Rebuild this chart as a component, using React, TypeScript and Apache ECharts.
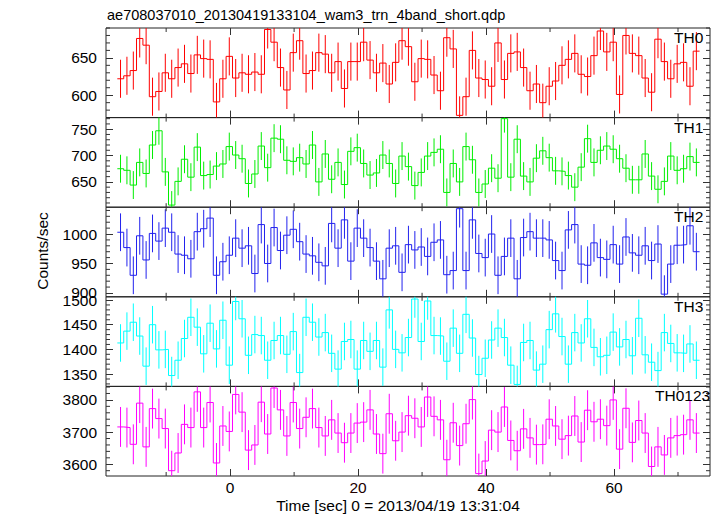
import React, { useEffect, useRef } from "react";
import * as echarts from "echarts";

// ---------- data ----------
const BIN_START = -17.63; // left edge of first 1-s bin (sec)
const BIN_WIDTH = 1;

const th0 = [622, 626, 633, 676, 667, 598, 605, 630, 622, 637, 642, 629, 654, 649, 648, 591, 622, 652, 623, 630, 628, 631, 628, 688, 671, 637, 607, 657, 673, 629, 633, 657, 655, 630, 645, 609, 645, 645, 671, 647, 630, 643, 615, 644, 673, 665, 618, 649, 648, 627, 606, 677, 662, 573, 598, 660, 623, 621, 612, 670, 621, 656, 658, 637, 606, 615, 590, 612, 619, 640, 648, 656, 628, 625, 653, 686, 658, 671, 601, 680, 656, 653, 623, 604, 675, 645, 622, 642, 644, 612, 659];
const th1 = [675, 672, 644, 687, 666, 720, 747, 669, 606, 651, 693, 659, 716, 662, 664, 680, 684, 717, 701, 694, 647, 665, 718, 677, 733, 731, 691, 689, 696, 684, 720, 650, 703, 655, 687, 645, 708, 715, 685, 663, 667, 701, 685, 647, 699, 679, 643, 668, 699, 706, 712, 630, 685, 650, 717, 692, 630, 646, 676, 657, 770, 659, 731, 661, 650, 695, 709, 696, 671, 670, 662, 640, 678, 732, 687, 710, 718, 712, 694, 676, 654, 654, 703, 661, 636, 651, 699, 672, 675, 698, 687];
const th2 = [1003, 977, 930, 997, 956, 1001, 988, 1010, 1003, 966, 964, 958, 1004, 1009, 1027, 930, 953, 964, 993, 976, 980, 933, 1016, 950, 1011, 972, 998, 1008, 987, 966, 963, 952, 946, 1018, 976, 1024, 954, 1010, 993, 977, 954, 924, 976, 980, 935, 982, 973, 978, 962, 986, 990, 931, 938, 1043, 938, 1024, 967, 960, 1000, 930, 962, 993, 924, 994, 1004, 993, 993, 990, 955, 938, 1007, 1016, 949, 947, 985, 960, 957, 982, 949, 995, 968, 964, 980, 955, 983, 898, 949, 981, 982, 1014, 970];
const th3 = [1413, 1437, 1455, 1427, 1366, 1450, 1399, 1400, 1347, 1378, 1422, 1465, 1445, 1391, 1453, 1401, 1459, 1368, 1497, 1462, 1388, 1430, 1428, 1378, 1418, 1428, 1390, 1436, 1353, 1465, 1455, 1425, 1434, 1392, 1360, 1416, 1420, 1360, 1418, 1396, 1418, 1364, 1480, 1400, 1393, 1424, 1502, 1416, 1498, 1428, 1427, 1376, 1443, 1392, 1471, 1423, 1349, 1382, 1419, 1443, 1424, 1368, 1329, 1414, 1418, 1358, 1370, 1440, 1472, 1426, 1370, 1434, 1413, 1462, 1404, 1385, 1388, 1435, 1405, 1420, 1387, 1463, 1389, 1374, 1357, 1434, 1412, 1393, 1392, 1411, 1378];
const th0123 = [3716, 3714, 3662, 3790, 3654, 3773, 3742, 3711, 3580, 3635, 3724, 3714, 3825, 3714, 3792, 3604, 3719, 3702, 3817, 3762, 3644, 3660, 3793, 3694, 3837, 3769, 3688, 3792, 3711, 3746, 3773, 3714, 3688, 3738, 3697, 3667, 3697, 3728, 3731, 3769, 3694, 3633, 3757, 3673, 3700, 3751, 3743, 3716, 3809, 3749, 3738, 3614, 3729, 3658, 3726, 3801, 3571, 3610, 3706, 3700, 3778, 3674, 3642, 3710, 3682, 3661, 3662, 3740, 3719, 3678, 3689, 3750, 3669, 3768, 3732, 3740, 3720, 3800, 3647, 3774, 3668, 3736, 3697, 3593, 3654, 3629, 3682, 3689, 3692, 3738, 3697];

// typical 1-sigma error per panel (counts/sec)
const th0Err = 25.5;
const th1Err = 26.5;
const th2Err = 32;
const th3Err = 38;
const th0123Err = 62;

// axis ranges and ticks
const xRange = [-19.4, 75];
const xMajorTicks = [0, 20, 40, 60];
const xMinorTicks = [-10, 10, 30, 50, 70];

const th0Range = [570, 690];
const th0Major = [600, 650];
const th0Minor = [580, 590, 610, 620, 630, 640, 660, 670, 680, 690];

const th1Range = [602, 772];
const th1Major = [650, 700, 750];
const th1Minor = [610, 620, 630, 640, 660, 670, 680, 690, 710, 720, 730, 740, 760, 770];

const th2Range = [893.5, 1045.5];
const th2Major = [900, 950, 1000];
const th2Minor = [910, 920, 930, 940, 960, 970, 980, 990, 1010, 1020, 1030, 1040];

const th3Range = [1325, 1506.5];
const th3Major = [1350, 1400, 1450, 1500];
const th3Minor = [1330, 1340, 1360, 1370, 1380, 1390, 1410, 1420, 1430, 1440, 1460, 1470, 1480, 1490];

const th0123Range = [3563.5, 3842];
const th0123Major = [3600, 3700, 3800];
const th0123Minor = [3580, 3620, 3640, 3660, 3680, 3720, 3740, 3760, 3780, 3820, 3840];

const panelNames = ["TH0", "TH1", "TH2", "TH3", "TH0123"];
const panelColors = ["#ff0000", "#00ee00", "#2222ee", "#00ffff", "#ff00ff"];

const TITLE = "ae708037010_20130419133104_wam3_trn_4band_short.qdp";
const X_LABEL = "Time [sec] 0 = 2013/04/19 13:31:04";
const Y_LABEL = "Counts/sec";

// ---------- layout ----------
const GRID_LEFT = 106;
const GRID_WIDTH = 604;
const GRID_TOP = 28;
const PANEL_H = 89.6;
const FONT = "'Liberation Sans', Arial, Helvetica, sans-serif";
const FRAME = "#222";
const TICK = "#333";
const MAJOR_LEN = 7;
const MINOR_LEN = 4;

const panels = [
  { values: th0, err: th0Err, range: th0Range, major: th0Major, minor: th0Minor, labelX: 674 },
  { values: th1, err: th1Err, range: th1Range, major: th1Major, minor: th1Minor, labelX: 674 },
  { values: th2, err: th2Err, range: th2Range, major: th2Major, minor: th2Minor, labelX: 674 },
  { values: th3, err: th3Err, range: th3Range, major: th3Major, minor: th3Minor, labelX: 674 },
  { values: th0123, err: th0123Err, range: th0123Range, major: th0123Major, minor: th0123Minor, labelX: 655 },
];

export default function App() {
  const ref = useRef<HTMLDivElement>(null);

  useEffect(() => {
    if (!ref.current) return;
    const chart = echarts.init(ref.current, null, { renderer: "svg" });

    const grid: any[] = [];
    const xAxis: any[] = [];
    const yAxis: any[] = [];
    const series: any[] = [];
    const graphic: any[] = [];

    panels.forEach((p, i) => {
      const color = panelColors[i];
      const top = GRID_TOP + i * PANEL_H;
      grid.push({
        left: GRID_LEFT,
        width: GRID_WIDTH,
        top,
        height: PANEL_H,
        show: true,
        borderColor: FRAME,
        borderWidth: 1,
        backgroundColor: "transparent",
        containLabel: false,
      });
      const tickStyle = { color: TICK, width: 1 };
      ["bottom", "top"].forEach((pos) => {
        xAxis.push({
          gridIndex: i,
          type: "value",
          position: pos,
          min: xRange[0],
          max: xRange[1],
          axisLine: { show: false, onZero: false },
          splitLine: { show: false },
          axisTick: { show: true, inside: true, length: MAJOR_LEN, customValues: xMajorTicks, lineStyle: tickStyle },
          axisLabel: { show: false },
        });
      });
      ["left", "right"].forEach((pos) => {
        yAxis.push({
          gridIndex: i,
          type: "value",
          position: pos,
          min: p.range[0],
          max: p.range[1],
          axisLine: { show: false, onZero: false },
          splitLine: { show: false },
          axisTick: { show: true, inside: true, length: MAJOR_LEN, customValues: p.major, lineStyle: tickStyle },
          axisLabel: {
            show: pos === "left",
            customValues: p.major,
            interval: 0,
            hideOverlap: false,
            margin: 9,
            fontSize: 15.5,
            fontFamily: FONT,
            color: "#000",
            formatter: (v: number) => String(v),
          },
        });
      });

      const n = p.values.length;
      const edges = p.values.map((v, k) => [BIN_START + k * BIN_WIDTH, v]);
      edges.push([BIN_START + n * BIN_WIDTH, p.values[n - 1]]);

      series.push({
        type: "line",
        xAxisIndex: 2 * i,
        yAxisIndex: 2 * i,
        step: "end",
        symbol: "none",
        data: edges,
        clip: true,
        silent: true,
        lineStyle: { color, width: 1 },
        itemStyle: { color },
      });

      const errData = p.values.map((v, k) => [BIN_START + (k + 0.5) * BIN_WIDTH, v, p.err]);
      series.push({
        type: "custom",
        xAxisIndex: 2 * i,
        yAxisIndex: 2 * i,
        clip: true,
        silent: true,
        data: errData,
        renderItem: (params: any, api: any) => {
          const x = api.value(0);
          const y = api.value(1);
          const e = api.value(2);
          const a = api.coord([x, y - e]);
          const b = api.coord([x, y + e]);
          return {
            type: "line",
            shape: { x1: a[0], y1: a[1], x2: b[0], y2: b[1] },
            style: { stroke: color, lineWidth: 1 },
          };
        },
      });

      // minor ticks (y on both sides, x on top and bottom)
      const tickData: number[][] = [];
      p.minor.forEach((v) => tickData.push([0, v]));
      xMinorTicks.forEach((v) => tickData.push([1, v]));
      series.push({
        type: "custom",
        xAxisIndex: 2 * i,
        yAxisIndex: 2 * i,
        clip: false,
        silent: true,
        z: 5,
        data: tickData,
        renderItem: (params: any, api: any) => {
          const kind = api.value(0);
          const v = api.value(1);
          const st = { stroke: TICK, lineWidth: 1 };
          const lt = api.coord([xRange[0], p.range[1]]);
          const rb = api.coord([xRange[1], p.range[0]]);
          const x0 = lt[0];
          const x1 = rb[0];
          const y0 = lt[1];
          const y1 = rb[1];
          if (kind === 0) {
            const py = api.coord([xRange[0], v])[1];
            return {
              type: "group",
              children: [
                { type: "line", shape: { x1: x0, y1: py, x2: x0 + MINOR_LEN, y2: py }, style: st },
                { type: "line", shape: { x1: x1 - MINOR_LEN, y1: py, x2: x1, y2: py }, style: st },
              ],
            };
          }
          const px = api.coord([v, p.range[0]])[0];
          return {
            type: "group",
            children: [
              { type: "line", shape: { x1: px, y1: y0, x2: px, y2: y0 + MINOR_LEN }, style: st },
              { type: "line", shape: { x1: px, y1: y1 - MINOR_LEN, x2: px, y2: y1 }, style: st },
            ],
          };
        },
      });

      graphic.push({
        type: "text",
        x: p.labelX,
        y: top + 9.5,
        z: 200,
        style: { text: panelNames[i], fontSize: 15.5, fontFamily: FONT, fill: "#000", align: "left", verticalAlign: "middle" },
      });
    });

    graphic.push({
      type: "text",
      x: 107,
      y: 15.3,
      z: 200,
      style: { text: TITLE, fontSize: 14.5, fontFamily: FONT, fill: "#000", align: "left", verticalAlign: "middle" },
    });
    graphic.push({
      type: "text",
      x: 398,
      y: 505,
      z: 200,
      style: { text: X_LABEL, fontSize: 15.5, fontFamily: FONT, fill: "#000", align: "center", verticalAlign: "middle" },
    });
    graphic.push({
      type: "text",
      x: 42,
      y: 251,
      z: 200,
      rotation: Math.PI / 2,
      style: { text: Y_LABEL, fontSize: 15.5, fontFamily: FONT, fill: "#000", align: "center", verticalAlign: "middle" },
    });

    chart.setOption({
      animation: false,
      backgroundColor: "#fff",
      grid,
      xAxis,
      yAxis,
      series,
    });

    // x tick labels of the bottom panel, placed through the axis scale
    const bottomAxis = 2 * (panels.length - 1);
    xMajorTicks.forEach((v) => {
      const px = chart.convertToPixel({ xAxisIndex: bottomAxis }, v) as number;
      graphic.push({
        type: "text",
        x: px,
        y: 487.5,
        z: 200,
        style: {
          text: String(v),
          fontSize: 15.5,
          fontFamily: FONT,
          fill: v === 20 ? "#200000" : "#000",
          align: "center",
          verticalAlign: "middle",
        },
      });
    });

    chart.setOption({ graphic });

    return () => chart.dispose();
  }, []);

  return (
    <div
      ref={ref}
      style={{ position: "absolute", left: 0, top: 0, width: 717, height: 516 }}
    />
  );
}
